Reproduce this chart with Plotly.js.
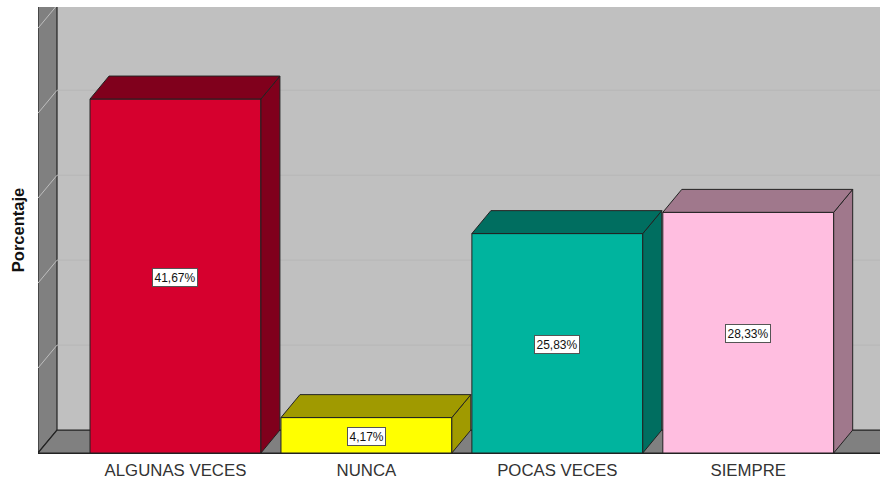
<!DOCTYPE html>
<html>
<head>
<meta charset="utf-8">
<script src="https://cdn.plot.ly/plotly-3.0.1.min.js"></script>
<style>html,body{margin:0;padding:0;background:#fff}#chart{width:880px;height:477px}</style>
</head>
<body>
<div id="chart"></div>
<script>
var categories = ["ALGUNAS VECES", "NUNCA", "POCAS VECES", "SIEMPRE"];
var values = [41.67, 4.17, 25.83, 28.33];
var valueLabels = ["41,67%", "4,17%", "25,83%", "28,33%"];
var frontColors = ["#D6002E", "#FFFF00", "#00B49E", "#FFBEE0"];
var depthColors = ["#80001C", "#A09A00", "#006E60", "#A0788C"];
var gridValues = [10, 20, 30, 40, 50];

var positions = categories.map(function (c, i) { return i; });
var barWidth = 0.895;
var depthX = 0.0995;
var depthY = 2.7;
var xRange = [-0.72, 3.69];
var yRange = [0, 52.5];
var edge = "#222222";
var wall = "#808080";

function poly(xs, ys, fill) {
  return {
    type: "path", xref: "x", yref: "y", layer: "below",
    path: "M" + xs.map(function (x, i) { return x + "," + ys[i]; }).join("L") + "Z",
    fillcolor: fill, line: { color: edge, width: 1.2 }
  };
}

var wallLeft = xRange[0], wallBack = xRange[0] + depthX;
var shapes = [
  poly([wallLeft, wallBack, wallBack, wallLeft], [0, depthY, yRange[1] + 1, yRange[1] + 1], wall),
  poly([wallLeft, wallBack, xRange[1] + 1, xRange[1] + 1], [0, depthY, depthY, 0], wall)
];
gridValues.forEach(function (g) {
  shapes.push({ type: "line", xref: "x", yref: "y", layer: "below",
    x0: wallLeft, x1: wallBack, y0: g, y1: g + depthY,
    line: { color: "#BEBEBE", width: 1 } });
  shapes.push({ type: "line", xref: "x", yref: "y", layer: "below",
    x0: wallBack, x1: xRange[1], y0: g + depthY, y1: g + depthY,
    line: { color: "#B6B6B6", width: 1 } });
});

var traces = [{
  type: "bar", x: positions, y: values, width: barWidth,
  marker: { color: frontColors, line: { color: edge, width: 1 } },
  hoverinfo: "skip"
}];

positions.forEach(function (p, i) {
  var l = p - barWidth / 2, r = p + barWidth / 2, v = values[i];
  traces.push({
    type: "scatter", mode: "lines", hoverinfo: "skip", fill: "toself",
    fillcolor: depthColors[i], line: { color: edge, width: 1 },
    x: [r, r + depthX, r + depthX, r, r],
    y: [0, depthY, v + depthY, v, 0]
  });
  traces.push({
    type: "scatter", mode: "lines", hoverinfo: "skip", fill: "toself",
    fillcolor: depthColors[i], line: { color: edge, width: 1 },
    x: [l, l + depthX, r + depthX, r, l],
    y: [v, v + depthY, v + depthY, v, v]
  });
});

var annotations = positions.map(function (p, i) {
  return {
    x: p, y: values[i] / 2, xref: "x", yref: "y", yshift: -1, showarrow: false,
    text: valueLabels[i],
    font: { family: "Liberation Sans, Arial, sans-serif", size: 12, color: "#111111" },
    bgcolor: "#FFFFFF", bordercolor: "#555555", borderwidth: 1, borderpad: 1.5
  };
});

var layout = {
  width: 880, height: 477,
  margin: { l: 38, r: 0, t: 7, b: 24, pad: 0 },
  paper_bgcolor: "#FFFFFF", plot_bgcolor: "#C0C0C0",
  showlegend: false,
  xaxis: {
    range: xRange, tickmode: "array", tickvals: positions, ticktext: categories,
    showgrid: false, zeroline: false, showline: true, linecolor: edge, linewidth: 1.2,
    ticks: "outside", ticklen: 2, tickcolor: "rgba(0,0,0,0)",
    tickfont: { family: "Liberation Sans, Arial, sans-serif", size: 16.8, color: "#333333" }
  },
  yaxis: {
    range: yRange, showgrid: false, zeroline: false, showline: false, showticklabels: false,
    ticks: "",
    title: { text: "Porcentaje", standoff: 8,
      font: { family: "Liberation Sans, Arial, sans-serif", size: 16.5, color: "#111111", weight: 700 } }
  },
  shapes: shapes,
  annotations: annotations,
  bargap: 0
};

Plotly.newPlot("chart", traces, layout, { displayModeBar: false, staticPlot: true });
</script>
</body>
</html>
